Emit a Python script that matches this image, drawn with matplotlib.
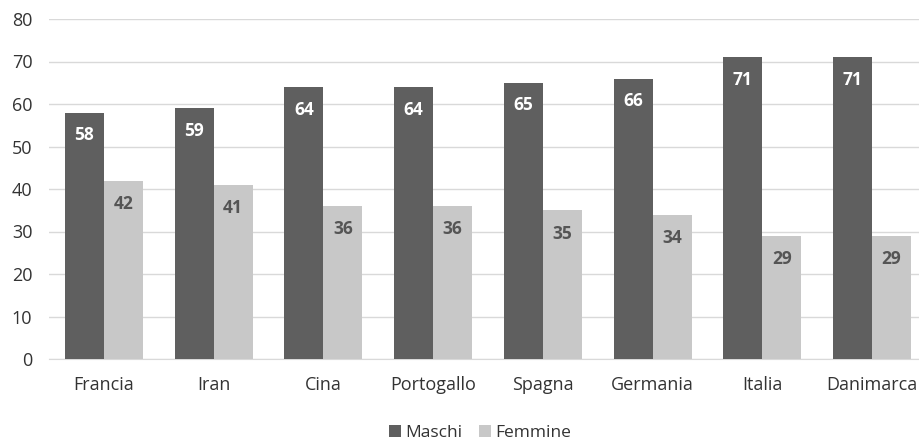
import matplotlib.pyplot as plt
import numpy as np

paesi = ['Francia', 'Iran', 'Cina', 'Portogallo', 'Spagna', 'Germania', 'Italia', 'Danimarca']
maschi = [58, 59, 64, 64, 65, 66, 71, 71]
femmine = [42, 41, 36, 36, 35, 34, 29, 29]

plt.rcParams['font.family'] = ['Open Sans', 'DejaVu Sans']

fig = plt.figure(figsize=(9.19, 4.43), dpi=100)
ax = fig.add_axes([49 / 919, 84 / 443, 878 / 919, 340 / 443])

x = np.arange(len(paesi))
w = 0.355
b1 = ax.bar(x - w / 2, maschi, w, color='#5f5f5f', label='Maschi', zorder=3)
b2 = ax.bar(x + w / 2, femmine, w, color='#c8c8c8', label='Femmine', zorder=3)

for rect, v in zip(b1, maschi):
    ax.text(rect.get_x() + rect.get_width() / 2, v - 5.3, str(v), ha='center', va='center',
            color='white', fontsize=12.5, fontweight='bold')
for rect, v in zip(b2, femmine):
    ax.text(rect.get_x() + rect.get_width() / 2, v - 5.5, str(v), ha='center', va='center',
            color='#555555', fontsize=12.5, fontweight='bold')

ax.set_ylim(0, 80)
ax.set_xlim(-0.5, len(paesi) - 0.5)
ax.set_yticks(range(0, 81, 10))
ax.set_xticks(x)
ax.set_xticklabels(paesi)
ax.tick_params(length=0, labelsize=13, colors='#333333')
ax.tick_params(axis='y', pad=12)
ax.tick_params(axis='x', pad=12)
ax.grid(axis='y', color='#d9d9d9', linewidth=1, zorder=0)
for s in ['top', 'right', 'left']:
    ax.spines[s].set_visible(False)
ax.spines['bottom'].set_color('#d9d9d9')

fig.legend(loc='center', bbox_to_anchor=(480 / 919, 1 - 433 / 443), ncol=2, frameon=False,
           fontsize=12.5, handlelength=0.7, handleheight=0.7, handletextpad=0.2, columnspacing=1.0,
           labelcolor='#333333')

fig.savefig('out.png', dpi=100)
